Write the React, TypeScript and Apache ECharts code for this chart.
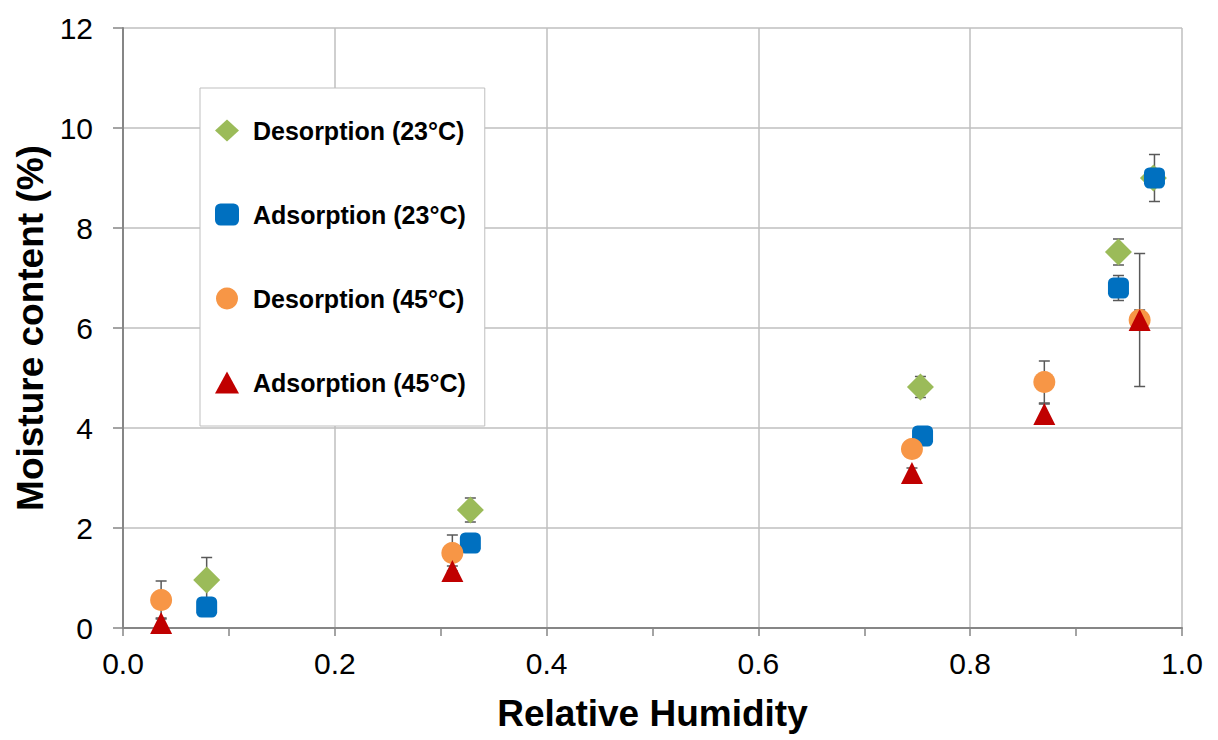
import React, { useEffect, useRef } from "react";
import * as echarts from "echarts";

const seriesNames = ["Desorption (23°C)", "Adsorption (23°C)", "Desorption (45°C)", "Adsorption (45°C)"];
const colors = ["#9BBB59", "#0070C0", "#F79646", "#C00000"];
const symbols = ["diamond", "roundRect", "circle", "triangle"];
const symbolSizes = [27, 21, 22, 22];

const des23X = [0.079, 0.328, 0.753, 0.94, 0.973];
const des23Y = [0.96, 2.36, 4.82, 7.52, 9.0];
const des23Err = [0.45, 0.24, 0.21, 0.26, 0];

const ads23X = [0.079, 0.328, 0.755, 0.94, 0.974];
const ads23Y = [0.42, 1.7, 3.84, 6.8, 9.0];
const ads23Err = [0.12, 0.1, 0.14, 0.25, 0.47];

const des45X = [0.036, 0.311, 0.745, 0.87, 0.96];
const des45Y = [0.56, 1.5, 3.58, 4.92, 6.16];
const des45Err = [0.38, 0.36, 0.15, 0.42, 1.33];

const ads45X = [0.036, 0.311, 0.745, 0.87, 0.96];
const ads45Y = [0.1, 1.14, 3.1, 4.28, 6.16];
const ads45Err = [0.1, 0.1, 0.1, 0.2, 0.2];

const allX = [des23X, ads23X, des45X, ads45X];
const allY = [des23Y, ads23Y, des45Y, ads45Y];
const allErr = [des23Err, ads23Err, des45Err, ads45Err];

const xTicks = [0, 0.2, 0.4, 0.6, 0.8, 1.0];
const yTicks = [0, 2, 4, 6, 8, 10, 12];

export default function App() {
  const ref = useRef<HTMLDivElement>(null);
  useEffect(() => {
    const chart = echarts.init(ref.current!, null, { renderer: "svg" });
    const errSeries = allX.map((xs, i) => ({
      type: "custom",
      name: "err" + i,
      z: 1,
      silent: true,
      data: xs.map((x, j) => [x, allY[i][j], allErr[i][j]]),
      encode: { x: 0, y: 1 },
      renderItem: (params: any, api: any) => {
        const x = api.value(0);
        const y = api.value(1);
        const e = api.value(2);
        if (!e) return null;
        const top = api.coord([x, y + e]);
        const bot = api.coord([x, y - e]);
        const cap = 5.5;
        const style = { stroke: "#595959", lineWidth: 1.5 };
        return {
          type: "group",
          children: [
            { type: "line", shape: { x1: top[0], y1: top[1], x2: bot[0], y2: bot[1] }, style },
            { type: "line", shape: { x1: top[0] - cap, y1: top[1], x2: top[0] + cap, y2: top[1] }, style },
            { type: "line", shape: { x1: bot[0] - cap, y1: bot[1], x2: bot[0] + cap, y2: bot[1] }, style },
          ],
        };
      },
    }));
    const scatterSeries = seriesNames.map((name, i) => ({
      type: "scatter",
      name,
      z: 3,
      symbol: symbols[i],
      symbolSize: symbolSizes[i],
      itemStyle: { color: colors[i], opacity: 1 },
      data: allX[i].map((x, j) => [x, allY[i][j]]),
    }));
    chart.setOption({
      animation: false,
      textStyle: { fontFamily: "Liberation Sans, Arial, sans-serif" },
      grid: { left: 123, right: 36, top: 28, bottom: 112 },
      legend: {
        data: seriesNames,
        orient: "vertical",
        left: 200,
        top: 88,
        itemWidth: 24,
        itemHeight: 22,
        itemGap: 59,
        padding: [30, 19, 31, 15],
        backgroundColor: "#ffffff",
        borderColor: "#BFBFBF",
        borderWidth: 1,
        textStyle: {
          fontSize: 25,
          fontWeight: "bold",
          color: "#000",
          lineHeight: 24,
          padding: [0, 0, 0, 9],
          fontFamily: "Liberation Sans, Arial, sans-serif",
        },
      },
      xAxis: {
        type: "value",
        min: 0,
        max: 1,
        interval: 0.2,
        name: "Relative Humidity",
        nameLocation: "middle",
        nameGap: 67,
        nameTextStyle: { fontSize: 37, fontWeight: "bold", color: "#000", verticalAlign: "top" },
        axisLine: { show: true, lineStyle: { color: "#868686", width: 2 } },
        axisTick: { show: true, length: 8, lineStyle: { color: "#868686", width: 1.5 } },
        minorTick: { show: true, splitNumber: 2, length: 8, lineStyle: { color: "#868686", width: 1.5 } },
        axisLabel: {
          fontSize: 30,
          color: "#000",
          margin: 20,
          customValues: xTicks,
          formatter: (v: number) => v.toFixed(1),
        },
        splitLine: { show: true, lineStyle: { color: "#BFBFBF", width: 1.5 } },
      },
      yAxis: {
        type: "value",
        min: 0,
        max: 12,
        interval: 2,
        name: "Moisture content (%)",
        nameLocation: "middle",
        nameGap: 74,
        nameTextStyle: { fontSize: 37, fontWeight: "bold", color: "#000" },
        axisLine: { show: true, lineStyle: { color: "#868686", width: 2 } },
        axisTick: { show: true, length: 10, lineStyle: { color: "#868686", width: 1.5 } },
        axisLabel: { fontSize: 30, color: "#000", margin: 30, customValues: yTicks },
        splitLine: { show: true, lineStyle: { color: "#BFBFBF", width: 1.5 } },
      },
      series: [...errSeries, ...scatterSeries],
    });
    return () => chart.dispose();
  }, []);
  return <div ref={ref} style={{ width: 1218, height: 740, position: "absolute", left: 0, top: 0 }} />;
}
